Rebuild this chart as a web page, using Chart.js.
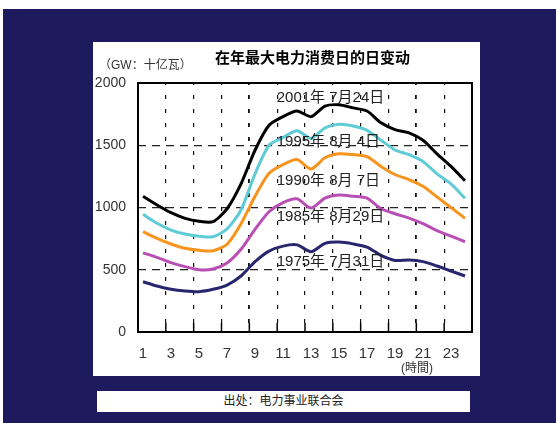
<!DOCTYPE html>
<html>
<head>
<meta charset="utf-8">
<script src="https://cdn.jsdelivr.net/npm/chart.js@4.4.0/dist/chart.umd.min.js"></script>
<style>
html, body { margin: 0; padding: 0; }
body { width: 556px; height: 423px; background: #fff; position: relative; overflow: hidden;
       font-family: "Liberation Sans", "Noto Sans CJK SC", sans-serif; }
#bg { position: absolute; left: 3px; top: 9px; width: 553px; height: 414px; background: #1e1a5e; }
#panel { position: absolute; left: 93px; top: 42px; width: 387px; height: 334px; background: #fff; }
#chart { position: absolute; left: 0; top: 0; }
#title { position: absolute; left: 0; top: 4px; width: 439px; text-align: center;
         font: bold 15px "Liberation Sans", "Noto Sans CJK SC", sans-serif; color: #000; }
#unit { position: absolute; left: 6px; top: 13px; font-size: 12px; color: #333; }
#hour { position: absolute; left: 308px; top: 316px; font-size: 12px; color: #333; }
#source { position: absolute; left: 97px; top: 391px; width: 373px; height: 21px; background: #fff;
          text-align: center; line-height: 21px; font-size: 12px; color: #222; }
</style>
</head>
<body>
<div id="bg"></div>
<div id="panel">
  <canvas id="chart" width="387" height="334"></canvas>
  <div id="title">在年最大电力消费日的日变动</div>
  <div id="unit">（GW：十亿瓦）</div>
  <div id="hour">(時間)</div>
</div>
<div id="source">出处：电力事业联合会</div>
<script>
//DATA
var hours = [1, 2, 3, 4, 5, 6, 7, 8, 9, 10, 11, 12, 13, 14, 15, 16, 17, 18, 19, 20, 21, 22, 23, 24];
var xTickLabels = [1, 3, 5, 7, 9, 11, 13, 15, 17, 19, 21, 23];
var yTickLabels = [0, 500, 1000, 1500, 2000];

var seriesNames = ["2001年 7月24日", "1995年 8月 4日", "1990年 8月 7日", "1985年 8月29日", "1975年 7月31日"];
var d2001 = [1090, 1020, 958, 913, 889, 886, 990, 1190, 1460, 1660, 1730, 1775, 1730, 1815, 1825, 1800, 1775, 1680, 1625, 1600, 1540, 1430, 1330, 1215];
var d1995 = [945, 873, 819, 787, 770, 765, 828, 980, 1270, 1500, 1563, 1617, 1555, 1640, 1668, 1655, 1620, 1540, 1462, 1425, 1370, 1270, 1190, 1074];
var d1990 = [806, 752, 707, 672, 656, 653, 705, 870, 1090, 1275, 1345, 1385, 1309, 1400, 1432, 1425, 1408, 1330, 1265, 1224, 1170, 1085, 1000, 913];
var d1985 = [635, 600, 557, 525, 500, 506, 555, 665, 825, 966, 1040, 1070, 995, 1075, 1100, 1090, 1075, 990, 950, 915, 870, 815, 770, 725];
var d1975 = [404, 369, 343, 329, 324, 343, 377, 450, 565, 650, 690, 700, 645, 712, 722, 708, 682, 615, 575, 578, 565, 530, 490, 450];

var seriesData = [d2001, d1995, d1990, d1985, d1975];
var seriesColors = ["#000000", "#5ecbd6", "#f7941d", "#b94fb5", "#28266f"];

// where the series names sit (hour, value)
var labelSpots = [[10.55, 1877], [10.55, 1528], [10.55, 1215], [10.55, 921], [10.55, 565]];

function makePoints(vals) {
    var pts = [];
    for (var i = 0; i < hours.length; i++)
        pts.push({ x: hours[i], y: vals[i] });
    return pts;
}

var datasets = [];
for (var i = 0; i < seriesData.length; i++) {
    datasets.push({
        label: seriesNames[i],
        data: makePoints(seriesData[i]),
        borderColor: seriesColors[i],
        borderWidth: 3,
        pointRadius: 0,
        tension: 0.25,
        fill: false
    });
}

//box, inner ticks and series names
var extras = {
    id: 'extras',
    afterDatasetsDraw: function(chart) {
        var ctx = chart.ctx;
        var a = chart.chartArea;
        var xs = chart.scales.x;
        var ys = chart.scales.y;
        var x2 = chart.scales.x2;
        ctx.save();
        ctx.font = '15px "Liberation Sans", "Noto Sans CJK SC", sans-serif';
        ctx.fillStyle = '#222';
        ctx.textAlign = 'left';
        ctx.textBaseline = 'middle';
        for (var i = 0; i < seriesNames.length; i++)
            ctx.fillText(seriesNames[i], xs.getPixelForValue(labelSpots[i][0]), ys.getPixelForValue(labelSpots[i][1]));
        ctx.strokeStyle = '#000';
        ctx.lineWidth = 1.5;
        for (var k = 1; k < 12; k++) {
            var px = x2.getPixelForValue(k);
            ctx.beginPath();
            ctx.moveTo(px, a.bottom);
            ctx.lineTo(px, a.bottom - 9);
            ctx.stroke();
        }
        ctx.lineWidth = 2;
        ctx.strokeRect(a.left, a.top, a.right - a.left, a.bottom - a.top);
        ctx.restore();
    }
};

var chart = new Chart(document.getElementById('chart').getContext('2d'), {
    type: 'line',
    data: { datasets: datasets },
    options: {
        responsive: false,
        animation: false,
        layout: { padding: { top: 41, right: 8, left: 0, bottom: 0 } },
        plugins: { legend: { display: false }, tooltip: { enabled: false } },
        scales: {
            x: {
                type: 'linear',
                min: 0.64,
                max: 24.5,
                afterBuildTicks: function(s) {
                    s.ticks = xTickLabels.map(function(v) { return { value: v }; });
                },
                afterFit: function(s) { s.height = 44; },
                grid: { display: false, drawTicks: false },
                border: { display: false },
                ticks: {
                    padding: 13,
                    maxRotation: 0,
                    autoSkip: false,
                    color: '#333',
                    font: { family: '"Liberation Sans", sans-serif', size: 15 }
                }
            },
            x2: {
                type: 'linear',
                position: 'top',
                min: 0,
                max: 12,
                ticks: { display: false, stepSize: 1 },
                afterFit: function(s) { s.height = 0; },
                border: { display: false, dash: [4, 10], dashOffset: 2 },
                grid: {
                    drawTicks: false,
                    color: function(c) { return (c.tick && (c.tick.value == 0 || c.tick.value == 12)) ? 'rgba(0,0,0,0)' : '#111'; },
                    lineWidth: function(c) { return (c.tick && (c.tick.value == 4 || c.tick.value == 10)) ? 1.8 : 1.2; }
                }
            },
            y: {
                min: 0,
                max: 2000,
                afterBuildTicks: function(s) {
                    s.ticks = yTickLabels.map(function(v) { return { value: v }; });
                },
                afterFit: function(s) { s.width = 45; },
                border: { display: false, dash: [8, 6] },
                grid: {
                    drawTicks: false,
                    color: '#222',
                    lineWidth: 1.2
                },
                ticks: {
                    padding: 12,
                    color: '#333',
                    font: { family: '"Liberation Sans", sans-serif', size: 14 },
                    callback: function(v) { return String(v); }
                }
            }
        }
    },
    plugins: [extras]
});
</script>
</body>
</html>
